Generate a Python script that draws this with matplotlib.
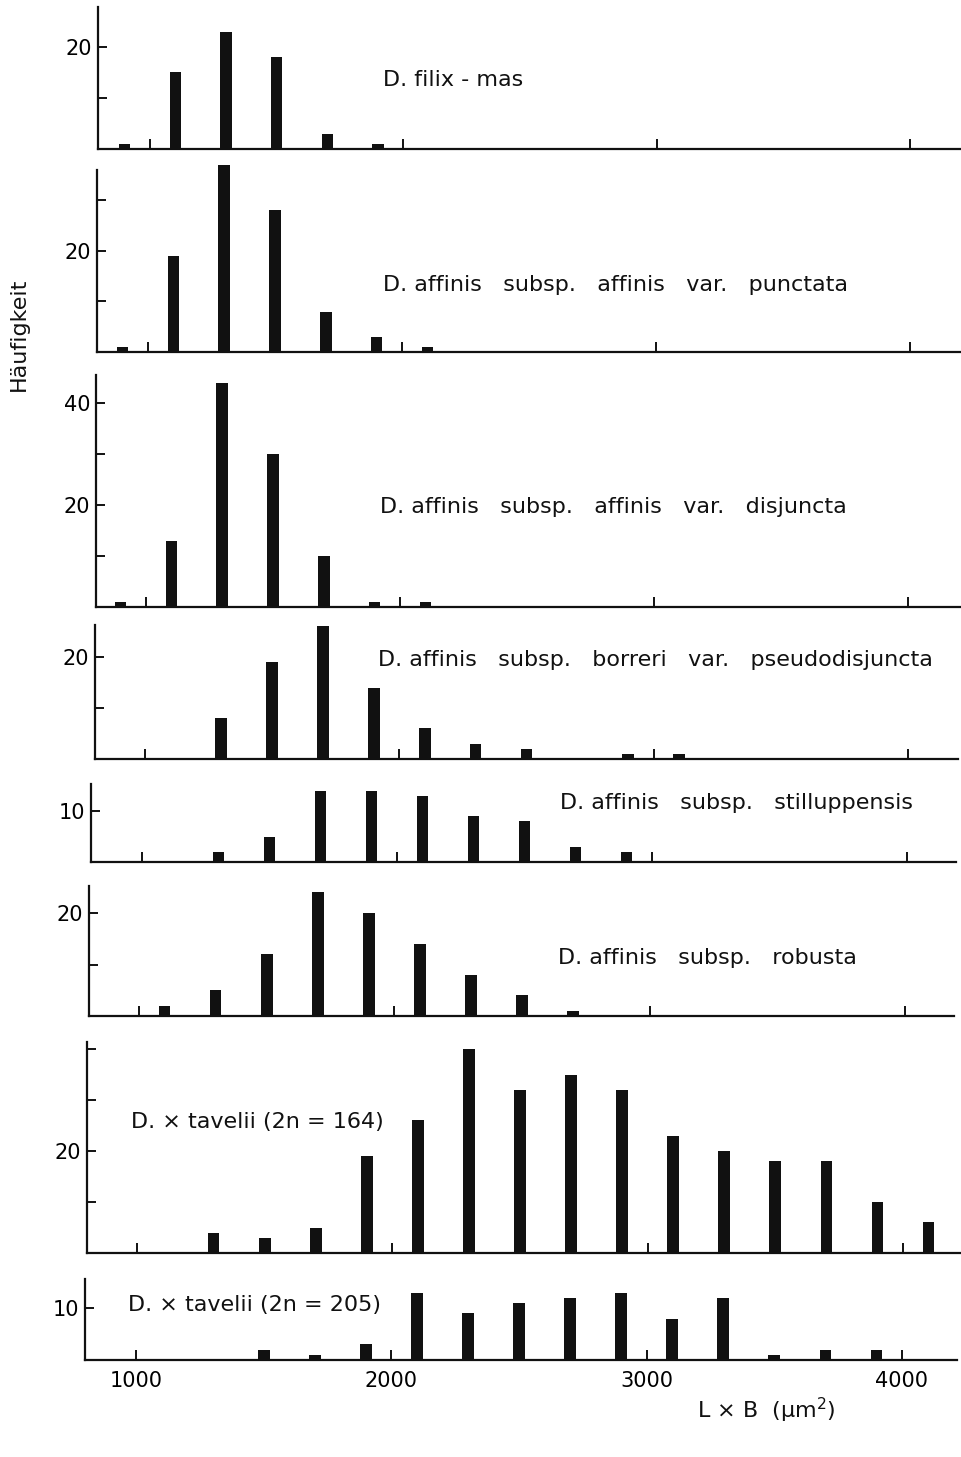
import matplotlib
matplotlib.use("Agg")
import matplotlib.pyplot as plt

#______________________________DATA______________________________
# class midpoints of L x B (um^2) and counts (Häufigkeit) per taxon
filix_x = [900, 1100, 1300, 1500, 1700, 1900]
filix_n = [1, 15, 23, 18, 3, 1]

punctata_x = [900, 1100, 1300, 1500, 1700, 1900, 2100]
punctata_n = [1, 19, 37, 28, 8, 3, 1]

disjuncta_x = [900, 1100, 1300, 1500, 1700, 1900, 2100]
disjuncta_n = [1, 13, 44, 30, 10, 1, 1]

pseudo_x = [1300, 1500, 1700, 1900, 2100, 2300, 2500, 2900, 3100]
pseudo_n = [8, 19, 26, 14, 6, 3, 2, 1, 1]

still_x = [1300, 1500, 1700, 1900, 2100, 2300, 2500, 2700, 2900]
still_n = [2, 5, 14, 14, 13, 9, 8, 3, 2]

robusta_x = [1100, 1300, 1500, 1700, 1900, 2100, 2300, 2500, 2700]
robusta_n = [2, 5, 12, 24, 20, 14, 8, 4, 1]

tav164_x = [1300, 1500, 1700, 1900, 2100, 2300, 2500, 2700, 2900, 3100,
            3300, 3500, 3700, 3900, 4100]
tav164_n = [4, 3, 5, 19, 26, 40, 32, 35, 32, 23, 20, 18, 18, 10, 6]

tav205_x = [1500, 1700, 1900, 2100, 2300, 2500, 2700, 2900, 3100, 3300,
            3500, 3700, 3900]
tav205_n = [2, 1, 3, 13, 9, 11, 12, 13, 8, 12, 1, 2, 2]

names = ["D. filix - mas",
         "D. affinis   subsp.   affinis   var.   punctata",
         "D. affinis   subsp.   affinis   var.   disjuncta",
         "D. affinis   subsp.   borreri   var.   pseudodisjuncta",
         "D. affinis   subsp.   stilluppensis",
         "D. affinis   subsp.   robusta",
         "D. × tavelii (2n = 164)",
         "D. × tavelii (2n = 205)"]

xticks = [1000, 2000, 3000, 4000]
xticklabels = ["1000", "2000", "3000", "4000"]

# y ticks every 10, only some of them labelled
yticks = [[10, 20], [10, 20, 30], [10, 20, 30, 40], [10, 20], [10],
          [10, 20], [10, 20, 30, 40], [10]]
ylabelled = [[20], [20], [20, 40], [20], [10], [20], [20], [10]]

#______________________________LAYOUT (pixels of the scan)______________________________
W, H = 961, 1457
# left, right, top, baseline, x of 1000, x of 4000, px per count
geom = [(98, 961, 7, 149, 150, 910, 5.10),
        (97, 961, 170, 352, 148, 910, 5.06),
        (96, 961, 375, 607, 146, 908, 5.10),
        (95, 958, 625, 759, 145, 908, 5.10),
        (91, 956, 784, 862, 142, 907, 5.10),
        (89, 954, 886, 1016, 139, 905, 5.15),
        (87, 961, 1042, 1253, 137, 903, 5.10),
        (85, 957, 1279, 1360, 136, 902, 5.18)]
# where the taxon names sit (left x, centre y)
name_pos = [(383, 80), (383, 285), (380, 507), (378, 660),
            (560, 803), (558, 958), (131, 1122), (128, 1305)]

data = [(filix_x, filix_n), (punctata_x, punctata_n),
        (disjuncta_x, disjuncta_n), (pseudo_x, pseudo_n),
        (still_x, still_n), (robusta_x, robusta_n),
        (tav164_x, tav164_n), (tav205_x, tav205_n)]

ink = '#111111'
plt.rcParams['font.family'] = 'DejaVu Sans'

fig = plt.figure(figsize=(W / 100, H / 100), dpi=100)

for i, (xs, ns) in enumerate(data):
    left, right, top, base, x1, x4, ppu = geom[i]
    ax = fig.add_axes([left / W, 1 - base / H, (right - left) / W, (base - top) / H])
    sc = (x4 - x1) / 3000.0
    ax.set_xlim(1000 - (x1 - left) / sc, 4000 + (right - x4) / sc)
    ax.set_ylim(0, (base - top) / ppu)

    ax.bar(xs, ns, width=46, color=ink, clip_on=False, zorder=3)

    for s in ['top', 'right']:
        ax.spines[s].set_visible(False)
    for s in ['left', 'bottom']:
        ax.spines[s].set_linewidth(1.6)
        ax.spines[s].set_color(ink)

    ax.set_xticks(xticks)
    if i == len(data) - 1:
        ax.set_xticklabels(xticklabels, fontsize=15)
    else:
        ax.set_xticklabels([])
    ax.tick_params(axis='x', direction='in', length=7, width=1.4, pad=8, color=ink)

    ax.set_yticks(yticks[i])
    ax.set_yticklabels([str(v) if v in ylabelled[i] else '' for v in yticks[i]],
                       fontsize=15)
    ax.tick_params(axis='y', direction='in', length=6.5, width=1.4, pad=4, color=ink)
    ax.patch.set_alpha(0)

    nx, ny = name_pos[i]
    fig.text(nx / W, 1 - ny / H, names[i], ha='left', va='center',
             fontsize=16, color=ink)

fig.text(19 / W, 1 - 334 / H, 'Häufigkeit', rotation=90, ha='center', va='center',
         fontsize=16, color=ink)
fig.text(697 / W, 1 - 1410 / H, 'L × B  (µm$^{2}$)', ha='left', va='center',
         fontsize=16, color=ink)

fig.savefig('out.png', dpi=100, facecolor='white')
